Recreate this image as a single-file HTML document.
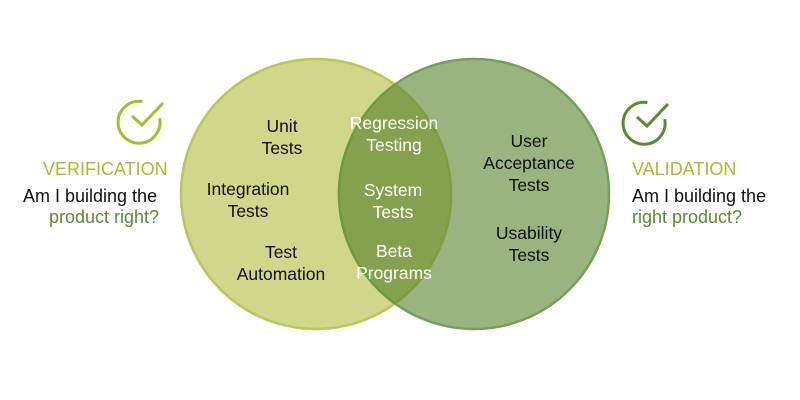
<!DOCTYPE html>
<html>
<head>
<meta charset="utf-8">
<style>
  html,body{margin:0;padding:0;background:#fff;}
  svg{display:block;}
  text{font-family:"Liberation Sans",Arial,sans-serif;}
</style>
</head>
<body>
<svg width="800" height="400" viewBox="0 0 800 400" xmlns="http://www.w3.org/2000/svg">
  <defs>
    <clipPath id="clipL"><circle cx="316" cy="194" r="135"/></clipPath>
  </defs>
  <rect width="800" height="400" fill="#fff"/>

  <!-- Left circle -->
  <circle cx="316" cy="194" r="135" fill="#cfd78a" stroke="#b8c852" stroke-width="2.5"/>
  <!-- Right circle -->
  <circle cx="474" cy="194" r="135" fill="#99b47f" stroke="#76a05a" stroke-width="2.5"/>
  <!-- Overlap -->
  <g clip-path="url(#clipL)">
    <circle cx="474" cy="194" r="135" fill="#84a24e"/>
  </g>
  <!-- edges inside overlap -->
  <g clip-path="url(#clipL)">
    <circle cx="474" cy="194" r="135" fill="none" stroke="#6e9a40" stroke-width="2.5"/>
  </g>
  <path d="M395 84.5 A135 135 0 0 1 395 303.5" fill="none" stroke="#7e9e3e" stroke-width="2.5"/>

  <!-- Left circle labels -->
  <g font-size="17.5" fill="#111" text-anchor="middle">
    <text x="282" y="132">Unit</text>
    <text x="282" y="154">Tests</text>
    <text x="248" y="195">Integration</text>
    <text x="248" y="217">Tests</text>
    <text x="281" y="258">Test</text>
    <text x="281" y="280">Automation</text>
  </g>
  <!-- Overlap labels -->
  <g font-size="17.5" fill="#ffffff" text-anchor="middle">
    <text x="394" y="129">Regression</text>
    <text x="394" y="151">Testing</text>
    <text x="393" y="196">System</text>
    <text x="393" y="218">Tests</text>
    <text x="394" y="257">Beta</text>
    <text x="394" y="279">Programs</text>
  </g>
  <!-- Right circle labels -->
  <g font-size="17.5" fill="#111" text-anchor="middle">
    <text x="529" y="147">User</text>
    <text x="529" y="169">Acceptance</text>
    <text x="529" y="191">Tests</text>
    <text x="529" y="239">Usability</text>
    <text x="529" y="261">Tests</text>
  </g>

  <!-- Left icon -->
  <g fill="none" stroke="#a8bd2e" stroke-width="3" stroke-linecap="butt">
    <path d="M159.7 118.2 A21 21 0 1 1 142.4 101.5"/>
    <path d="M132 116 L142 125 L163 103"/>
  </g>
  <!-- Right icon -->
  <g fill="none" stroke="#5b8a2e" stroke-width="3" stroke-linecap="butt">
    <path d="M664.7 119.2 A21 21 0 1 1 647.4 102.5"/>
    <path d="M637 117 L647 126 L668 104"/>
  </g>

  <!-- Left texts -->
  <g font-size="18">
    <text x="43" y="175" fill="#a8bd2e">VERIFICATION</text>
    <text x="23" y="202" fill="#111">Am I building the</text>
    <text x="49" y="223" fill="#5b8a2e">product right?</text>
  </g>
  <!-- Right texts -->
  <g font-size="18">
    <text x="632" y="175" fill="#a8bd2e">VALIDATION</text>
    <text x="632" y="202" fill="#111">Am I building the</text>
    <text x="632" y="223" fill="#5b8a2e">right product?</text>
  </g>
</svg>
</body>
</html>
